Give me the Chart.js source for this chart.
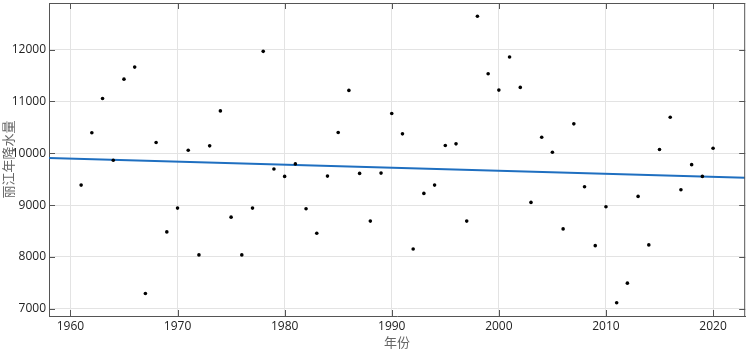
<!DOCTYPE html>
<html>
<head>
<meta charset="utf-8">
<script src="https://cdn.jsdelivr.net/npm/chart.js@4"></script>
<style>
  html, body { margin: 0; padding: 0; background: #fff; }
  #wrap { width: 747px; height: 350px; }
</style>
</head>
<body>
<div id="wrap"><canvas id="myChart" width="747" height="350"></canvas></div>
<script>
// Data ===================================================================
var years = [1961, 1962, 1963, 1964, 1965, 1966, 1967, 1968, 1969, 1970,
             1971, 1972, 1973, 1974, 1975, 1976, 1977, 1978, 1979, 1980,
             1981, 1982, 1983, 1984, 1985, 1986, 1987, 1988, 1989, 1990,
             1991, 1992, 1993, 1994, 1995, 1996, 1997, 1998, 1999, 2000,
             2001, 2002, 2003, 2004, 2005, 2006, 2007, 2008, 2009, 2010,
             2011, 2012, 2013, 2014, 2015, 2016, 2017, 2018, 2019, 2020];
var rainfall = [9386, 10395, 11058, 9865, 11431, 11663, 7295, 10207, 8483, 8942,
                10058, 8039, 10143, 10818, 8768, 8039, 8942, 11967, 9698, 9554,
                9795, 8930, 8457, 9560, 10400, 11213, 9612, 8691, 9618, 10768,
                10375, 8154, 9226, 9386, 10149, 10182, 8691, 12644, 11534, 11219,
                11857, 11271, 9052, 10309, 10019, 8541, 10568, 9355, 8218, 8969,
                7116, 7494, 9168, 8232, 10072, 10696, 9297, 9781, 9554, 10097];
// fitted trend line, its two ends
var trendYears = [1958, 2023];
var trendValues = [9907, 9530];

var xMin = 1958, xMax = 2023;
var yMin = 6860, yMax = 12900;

var canvas = document.getElementById("myChart");
var ctx = canvas.getContext('2d');

// inward tick marks plus the top and right frame (matlab style box)
var boxTicks = {
  id: 'boxTicks',
  afterDraw: function(chart) {
    var c = chart.ctx, a = chart.chartArea;
    var xs = chart.scales.x, ys = chart.scales.y;
    c.save();
    c.strokeStyle = '#555';
    c.lineWidth = 1;
    c.beginPath();
    c.moveTo(a.left, a.top + 0.5); c.lineTo(a.right, a.top + 0.5);
    c.moveTo(a.right - 0.5, a.top); c.lineTo(a.right - 0.5, a.bottom);
    xs.ticks.forEach(function(t) {
      var px = Math.round(xs.getPixelForValue(t.value)) + 0.5;
      c.moveTo(px, a.bottom); c.lineTo(px, a.bottom - 6);
      c.moveTo(px, a.top); c.lineTo(px, a.top + 6);
    });
    ys.ticks.forEach(function(t) {
      var py = Math.round(ys.getPixelForValue(t.value)) + 0.5;
      c.moveTo(a.left, py); c.lineTo(a.left + 6, py);
      c.moveTo(a.right, py); c.lineTo(a.right - 6, py);
    });
    c.stroke();
    c.restore();
  }
};

var myChart = new Chart(ctx, {
  type: 'scatter',
  data: {
    datasets: [{
      label: 'rain',
      data: years.map(function(y, i) { return {x: y, y: rainfall[i]}; }),
      backgroundColor: '#000',
      borderWidth: 0,
      pointRadius: 1.8,
      pointHoverRadius: 1.8,
      order: 1
    }, {
      type: 'line',
      label: 'trend',
      data: trendYears.map(function(y, i) { return {x: y, y: trendValues[i]}; }),
      borderColor: '#1f6fc0',
      borderWidth: 2,
      pointRadius: 0,
      fill: false,
      order: 2
    }]
  },
  options: {
    responsive: false,
    animation: false,
    layout: { padding: { top: 3, right: 1, left: 0, bottom: 0 } },
    plugins: { legend: { display: false }, tooltip: { enabled: false } },
    scales: {
      x: {
        type: 'linear',
        min: xMin, max: xMax,
        ticks: {
          stepSize: 1, color: '#222', padding: 3,
          font: { family: 'Open Sans', size: 12 },
          callback: function(v) { return String(v); }
        },
        afterBuildTicks: function(s) {
          s.ticks = s.ticks.filter(function(t) { return t.value % 10 === 0; });
        },
        grid: { color: '#e3e3e3', drawTicks: false },
        border: { color: '#555', width: 1 },
        title: {
          display: true, text: '年份', color: '#666', padding: 0,
          font: { family: 'Noto Sans CJK SC', size: 13 }
        },
        afterFit: function(s) { s.height = 34; s.paddingLeft = 0; s.paddingRight = 0; }
      },
      y: {
        min: yMin, max: yMax,
        ticks: {
          stepSize: 20, color: '#222', padding: 3,
          font: { family: 'Open Sans', size: 12 },
          callback: function(v) { return String(v); }
        },
        afterBuildTicks: function(s) {
          s.ticks = s.ticks.filter(function(t) { return t.value % 1000 === 0; });
        },
        grid: { color: '#e3e3e3', drawTicks: false },
        border: { color: '#555', width: 1 },
        title: {
          display: true, text: '丽江年降水量', color: '#666', padding: 0,
          font: { family: 'Noto Sans CJK SC', size: 13 }
        },
        afterFit: function(s) { s.width = 49; s.paddingTop = 0; s.paddingBottom = 0; }
      }
    }
  },
  plugins: [boxTicks]
});
</script>
</body>
</html>
